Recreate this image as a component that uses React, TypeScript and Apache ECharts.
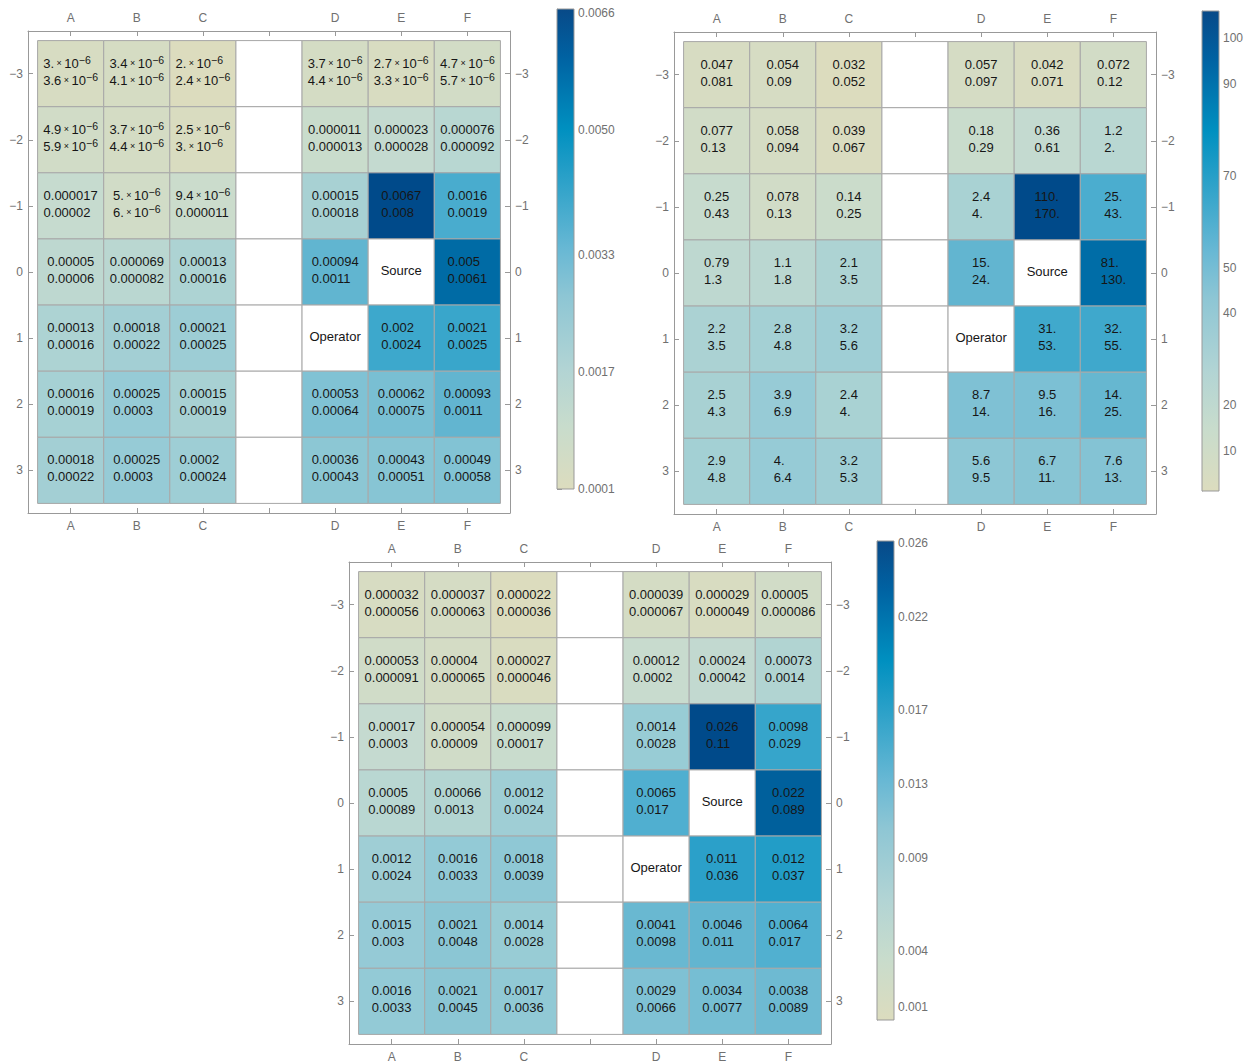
import React, { useEffect, useRef } from "react";
import * as echarts from "echarts";

// ---------------- data ----------------
const columns = ["A", "B", "C", "", "D", "E", "F"];
const rowTicks = [-3, -2, -1, 0, 1, 2, 3];
const sourceCell = [5, 0]; // [column index, row value]
const operatorCell = [4, 1];

// Panel 1 (rows -3..3, columns A B C gap D E F); null = empty cell
const p1Upper = [
  [3e-6, 3.4e-6, 2e-6, null, 3.7e-6, 2.7e-6, 4.7e-6],
  [4.9e-6, 3.7e-6, 2.5e-6, null, 0.000011, 0.000023, 0.000076],
  [0.000017, 5e-6, 9.4e-6, null, 0.00015, 0.0067, 0.0016],
  [0.00005, 0.000069, 0.00013, null, 0.00094, null, 0.005],
  [0.00013, 0.00018, 0.00021, null, null, 0.002, 0.0021],
  [0.00016, 0.00025, 0.00015, null, 0.00053, 0.00062, 0.00093],
  [0.00018, 0.00025, 0.0002, null, 0.00036, 0.00043, 0.00049],
];
const p1Lower = [
  [3.6e-6, 4.1e-6, 2.4e-6, null, 4.4e-6, 3.3e-6, 5.7e-6],
  [5.9e-6, 4.4e-6, 3e-6, null, 0.000013, 0.000028, 0.000092],
  [0.00002, 6e-6, 0.000011, null, 0.00018, 0.008, 0.0019],
  [0.00006, 0.000082, 0.00016, null, 0.0011, null, 0.0061],
  [0.00016, 0.00022, 0.00025, null, null, 0.0024, 0.0025],
  [0.00019, 0.0003, 0.00019, null, 0.00064, 0.00075, 0.0011],
  [0.00022, 0.0003, 0.00024, null, 0.00043, 0.00051, 0.00058],
];

// Panel 2
const p2Upper = [
  [0.047, 0.054, 0.032, null, 0.057, 0.042, 0.072],
  [0.077, 0.058, 0.039, null, 0.18, 0.36, 1.2],
  [0.25, 0.078, 0.14, null, 2.4, 110, 25],
  [0.79, 1.1, 2.1, null, 15, null, 81],
  [2.2, 2.8, 3.2, null, null, 31, 32],
  [2.5, 3.9, 2.4, null, 8.7, 9.5, 14],
  [2.9, 4, 3.2, null, 5.6, 6.7, 7.6],
];
const p2Lower = [
  [0.081, 0.09, 0.052, null, 0.097, 0.071, 0.12],
  [0.13, 0.094, 0.067, null, 0.29, 0.61, 2],
  [0.43, 0.13, 0.25, null, 4, 170, 43],
  [1.3, 1.8, 3.5, null, 24, null, 130],
  [3.5, 4.8, 5.6, null, null, 53, 55],
  [4.3, 6.9, 4, null, 14, 16, 25],
  [4.8, 6.4, 5.3, null, 9.5, 11, 13],
];

// Panel 3
const p3Upper = [
  [0.000032, 0.000037, 0.000022, null, 0.000039, 0.000029, 0.00005],
  [0.000053, 0.00004, 0.000027, null, 0.00012, 0.00024, 0.00073],
  [0.00017, 0.000054, 0.000099, null, 0.0014, 0.026, 0.0098],
  [0.0005, 0.00066, 0.0012, null, 0.0065, null, 0.022],
  [0.0012, 0.0016, 0.0018, null, null, 0.011, 0.012],
  [0.0015, 0.0021, 0.0014, null, 0.0041, 0.0046, 0.0064],
  [0.0016, 0.0021, 0.0017, null, 0.0029, 0.0034, 0.0038],
];
const p3Lower = [
  [0.000056, 0.000063, 0.000036, null, 0.000067, 0.000049, 0.000086],
  [0.000091, 0.000065, 0.000046, null, 0.0002, 0.00042, 0.0014],
  [0.0003, 0.00009, 0.00017, null, 0.0028, 0.11, 0.029],
  [0.00089, 0.0013, 0.0024, null, 0.017, null, 0.089],
  [0.0024, 0.0033, 0.0039, null, null, 0.036, 0.037],
  [0.003, 0.0048, 0.0028, null, 0.0098, 0.011, 0.017],
  [0.0033, 0.0045, 0.0036, null, 0.0066, 0.0077, 0.0089],
];

// colour-bar legends
const p1BarTicks = [0.0001, 0.0017, 0.0033, 0.005, 0.0066];
const p1BarRange = [0.0001, 0.00666];
const p2BarTicks = [10, 20, 40, 50, 70, 90, 100];
const p2BarRange = [1.26, 105.96];
const p3BarTicks = [0.001, 0.004, 0.009, 0.013, 0.017, 0.022, 0.026];
const p3BarRange = [0.0003, 0.0261];

// ---------------- styles ----------------
const FONT = '"Liberation Sans", Arial, Helvetica, sans-serif';
const CELL_COLORS = [
  "#dcdcbe", "#d7dcc2", "#d2dcc6", "#cedcca", "#cadccc", "#c7dbce", "#c4dad0",
  "#c1d9d0", "#bed8d0", "#b8d7d2", "#b0d4d2", "#a4d0d4", "#94cad6", "#8ac6d4",
  "#7cc0d4", "#64b6d0", "#52b0d0", "#3ea8cc", "#1c9ac6", "#0078b0", "#004a8a",
];
const BAR_STOPS = [
  { offset: 0, color: "#084a88" },
  { offset: 0.1, color: "#0062a2" },
  { offset: 0.25, color: "#0090c0" },
  { offset: 0.4, color: "#3ea8cc" },
  { offset: 0.5, color: "#68b8d4" },
  { offset: 0.6, color: "#8ec6d4" },
  { offset: 0.75, color: "#b2d4d4" },
  { offset: 0.87, color: "#c8dccc" },
  { offset: 1, color: "#dcdcbe" },
];
const AXIS_GREY = "#999999";
const LABEL_GREY = "#707070";
const TEXT_DARK = "#161616";

const RICH: any = {
  n: { fontSize: 13, lineHeight: 17, align: "left", fontFamily: FONT, fill: TEXT_DARK },
  x: { fontSize: 9, lineHeight: 17, align: "left", fontFamily: FONT, fill: TEXT_DARK },
  s: { fontSize: 10.5, lineHeight: 10, verticalAlign: "top", align: "left", fontFamily: FONT, fill: TEXT_DARK },
  c: { fontSize: 13, lineHeight: 17, align: "center", fontFamily: FONT, fill: TEXT_DARK },
};

function fmtNum(v: number): string {
  if (v < 1e-5) {
    const e = Math.floor(Math.log10(v) + 1e-9);
    const m = Math.round((v / Math.pow(10, e)) * 10) / 10;
    const ms = Number.isInteger(m) ? m + "." : String(m);
    return `{n|${ms}}{x| × }{n|10}{s|−${-e}}`;
  }
  const s = String(v);
  return `{n|${Number.isInteger(v) ? s + "." : s}}`;
}

const minusFmt = (v: number) => (v < 0 ? "−" + -v : String(v));

type PanelCfg = {
  upper: (number | null)[][];
  lower: (number | null)[][];
  left: number;
  top: number;
  barLeft: number;
  barTop: number;
  barHeight: number;
  barRange: number[];
  barTicks: number[];
  barDigits: number;
};

const panels: PanelCfg[] = [
  { upper: p1Upper, lower: p1Lower, left: 28, top: 31, barLeft: 557, barTop: 9, barHeight: 480, barRange: p1BarRange, barTicks: p1BarTicks, barDigits: 4 },
  { upper: p2Upper, lower: p2Lower, left: 674, top: 32, barLeft: 1202, barTop: 11, barHeight: 480, barRange: p2BarRange, barTicks: p2BarTicks, barDigits: 0 },
  { upper: p3Upper, lower: p3Lower, left: 349, top: 562, barLeft: 877, barTop: 541, barHeight: 479, barRange: p3BarRange, barTicks: p3BarTicks, barDigits: 3 },
];

const FRAME = 482;
const PAD = 0.645;

function buildOption() {
  const grid: any[] = [];
  const xAxis: any[] = [];
  const yAxis: any[] = [];
  const series: any[] = [];
  const visualMap: any[] = [];

  const tickStyle = { show: true, inside: true, length: 5, lineStyle: { color: AXIS_GREY } };
  const lineStyle = { show: true, onZero: false, lineStyle: { color: AXIS_GREY, width: 1 } };

  panels.forEach((p) => {
    const gi = grid.length;
    grid.push({ left: p.left, top: p.top, width: FRAME, height: FRAME });
    const xi = xAxis.length;
    ["top", "bottom"].forEach((pos) =>
      xAxis.push({
        gridIndex: gi,
        type: "value",
        position: pos,
        min: -PAD,
        max: columns.length - 1 + PAD,
        axisLine: lineStyle,
        axisTick: { ...tickStyle, customValues: columns.map((_, i) => i) },
        axisLabel: {
          customValues: columns.map((_, i) => i).filter((i) => columns[i] !== ""),
          formatter: (v: number) => columns[Math.round(v)] || "",
          color: LABEL_GREY,
          fontSize: 12,
          fontFamily: FONT,
          margin: 7,
        },
        splitLine: { show: false },
      })
    );
    const yi = yAxis.length;
    ["left", "right"].forEach((pos) =>
      yAxis.push({
        gridIndex: gi,
        type: "value",
        position: pos,
        inverse: true,
        min: rowTicks[0] - PAD,
        max: rowTicks[rowTicks.length - 1] + PAD,
        axisLine: lineStyle,
        axisTick: { ...tickStyle, customValues: rowTicks },
        axisLabel: {
          customValues: rowTicks,
          formatter: minusFmt,
          color: LABEL_GREY,
          fontSize: 12,
          fontFamily: FONT,
          margin: 5,
        },
        splitLine: { show: false },
      })
    );

    const data: any[] = [];
    const labels: string[] = [];
    rowTicks.forEach((r, ri) =>
      columns.forEach((_, ci) => {
        const u = p.upper[ri][ci];
        const l = p.lower[ri][ci];
        data.push([ci, r, u == null ? "-" : Math.log10(u)]);
        let lab = "";
        if (u != null && l != null) lab = fmtNum(u) + "\n" + fmtNum(l);
        else if (ci === sourceCell[0] && r === sourceCell[1]) lab = "{c|Source}";
        else if (ci === operatorCell[0] && r === operatorCell[1]) lab = "{c|Operator}";
        labels.push(lab);
      })
    );
    const vals = p.upper.flat().filter((v) => v != null) as number[];
    visualMap.push({
      type: "continuous",
      show: false,
      seriesIndex: series.length,
      dimension: 2,
      min: Math.log10(Math.min(...vals)),
      max: Math.log10(Math.max(...vals)),
      inRange: { color: CELL_COLORS },
    });
    series.push({
      type: "custom",
      coordinateSystem: "cartesian2d",
      xAxisIndex: xi + 1,
      yAxisIndex: yi,
      encode: { x: 0, y: 1 },
      data,
      renderItem: (params: any, api: any) => {
        const x = api.value(0);
        const y = api.value(1);
        const v = api.value(2);
        const a = api.coord([x - 0.5, y - 0.5]);
        const b = api.coord([x + 0.5, y + 0.5]);
        const has = typeof v === "number" && !isNaN(v);
        return {
          type: "rect",
          shape: {
            x: Math.min(a[0], b[0]),
            y: Math.min(a[1], b[1]),
            width: Math.abs(b[0] - a[0]),
            height: Math.abs(b[1] - a[1]),
          },
          style: { fill: has ? api.visual("color") : "#ffffff", stroke: "#a8a8a8", lineWidth: 1 },
          textContent: {
            style: { text: labels[params.dataIndex], rich: RICH, fontSize: 13, fontFamily: FONT, fill: TEXT_DARK },
          },
          textConfig: { position: "inside", offset: [0, -2] },
        };
      },
    });

    // colour bar
    const gb = grid.length;
    grid.push({ left: p.barLeft, top: p.barTop, width: 17, height: p.barHeight });
    xAxis.push({ gridIndex: gb, type: "value", show: false, min: 0, max: 1 });
    yAxis.push({
      gridIndex: gb,
      type: "value",
      position: "right",
      min: p.barRange[0],
      max: p.barRange[1],
      axisLine: { show: true, lineStyle: { color: AXIS_GREY } },
      axisTick: { show: true, inside: false, length: 5, customValues: p.barTicks, lineStyle: { color: AXIS_GREY } },
      axisLabel: {
        customValues: p.barTicks,
        formatter: (v: number) => v.toFixed(p.barDigits),
        color: LABEL_GREY,
        fontSize: 12,
        fontFamily: FONT,
        margin: 4,
      },
      splitLine: { show: false },
    });
    series.push({
      type: "custom",
      coordinateSystem: "cartesian2d",
      xAxisIndex: xAxis.length - 1,
      yAxisIndex: yAxis.length - 1,
      data: [[0, p.barRange[0]]],
      renderItem: (params: any) => {
        const cs = params.coordSys;
        return {
          type: "rect",
          shape: { x: cs.x, y: cs.y, width: cs.width, height: cs.height },
          style: {
            fill: new echarts.graphic.LinearGradient(0, 0, 0, 1, BAR_STOPS),
            stroke: AXIS_GREY,
            lineWidth: 1,
          },
        };
      },
    });
  });

  return { animation: false, backgroundColor: "#ffffff", grid, xAxis, yAxis, visualMap, series };
}

export default function App() {
  const ref = useRef<HTMLDivElement>(null);
  useEffect(() => {
    if (!ref.current) return;
    const chart = echarts.init(ref.current, undefined, { renderer: "svg" });
    chart.setOption(buildOption() as any);
    return () => chart.dispose();
  }, []);
  return (
    <div
      ref={ref}
      style={{ position: "fixed", left: 0, top: 0, width: 1260, height: 1063, background: "#fff" }}
    />
  );
}
